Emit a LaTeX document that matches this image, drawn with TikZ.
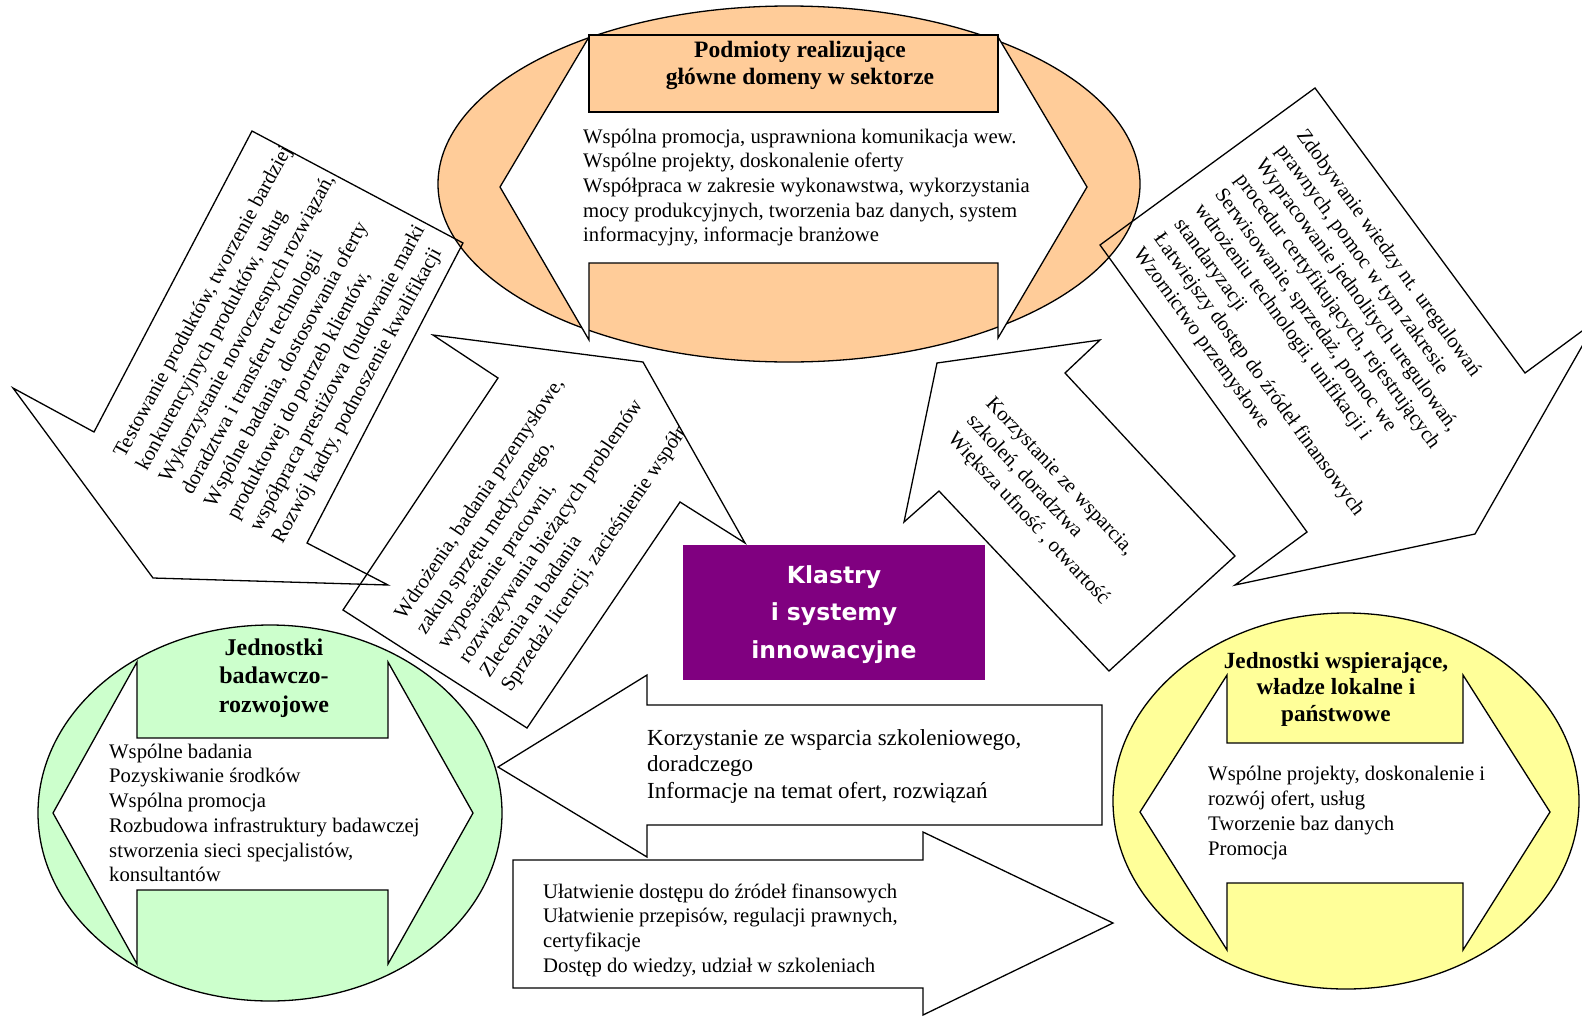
\documentclass[tikz,border=0pt]{standalone}
\usepackage{fontspec}
\setmainfont{Liberation Serif}
\newfontfamily\klasterfont{DejaVu Sans}
\definecolor{orangefill}{HTML}{FFCC99}
\definecolor{greenfill}{HTML}{CCFFCC}
\definecolor{yellowfill}{HTML}{FFFF99}
\definecolor{purplefill}{HTML}{800080}
\begin{document}
\begin{tikzpicture}[x=1bp,y=-1bp,
  shapeline/.style={draw=black,line width=1.3bp,line join=miter},
  txt/.style={inner sep=0pt,align=left,anchor=north west,text=black,
    font=\fontsize{20.7bp}{24.7bp}\selectfont},
  bigtxt/.style={inner sep=0pt,align=left,anchor=north west,text=black,
    font=\fontsize{23bp}{26.7bp}\selectfont},
  ttl/.style={inner sep=0pt,align=center,anchor=north,text=black}
]
\useasboundingbox (0,0) rectangle (1582,1016);
\clip (0,0) rectangle (1582,1016);
\fill[white] (0,0) rectangle (1582,1016);

% ===== top (orange) ellipse
\fill[orangefill] (789,184) ellipse [x radius=351, y radius=178];
\draw[shapeline] (789,184) ellipse [x radius=351, y radius=178];
\draw[shapeline,fill=white] (500,187) -- (589,37) -- (589,112) -- (998,112) -- (998,37)
  -- (1087,187) -- (998,338) -- (998,263) -- (589,263) -- (589,340) -- cycle;
\draw[shapeline,fill=orangefill] (589,35) rectangle (998,112);
\node[ttl,font=\bfseries\fontsize{23.5bp}{27bp}\selectfont] (podmioty) at (800,38.1)
  {\strut Podmioty realizujące\\główne domeny w sektorze};
\node[txt] (podmiotytxt) at (583,125.7)
  {\strut Wspólna promocja, usprawniona komunikacja wew.\\Wspólne projekty, doskonalenie oferty\\Współpraca w zakresie wykonawstwa, wykorzystania\\mocy produkcyjnych, tworzenia baz danych, system\\informacyjny, informacje branżowe};

% ===== green ellipse
\fill[greenfill] (270,813) ellipse [x radius=232, y radius=188];
\draw[shapeline] (270,813) ellipse [x radius=232, y radius=188];
\draw[shapeline,fill=white] (53,813) -- (137,662) -- (137,738) -- (388,738) -- (388,662)
  -- (473,813) -- (388,964) -- (388,890) -- (137,890) -- (137,964) -- cycle;
\node[ttl,font=\bfseries\fontsize{24bp}{28.5bp}\selectfont] (jbr) at (274,635)
  {\strut Jednostki\\badawczo-\\rozwojowe};
\node[txt] (jbrtxt) at (109,740.7)
  {\strut Wspólne badania\\Pozyskiwanie środków\\Wspólna promocja\\Rozbudowa infrastruktury badawczej\\stworzenia sieci specjalistów,\\konsultantów};

% ===== yellow ellipse
\fill[yellowfill] (1346,801) ellipse [x radius=233, y radius=188];
\draw[shapeline] (1346,801) ellipse [x radius=233, y radius=188];
\draw[shapeline,fill=white] (1140,812) -- (1227,675) -- (1227,743) -- (1463,743) -- (1463,675)
  -- (1550,812) -- (1463,950) -- (1463,883) -- (1227,883) -- (1227,950) -- cycle;
\node[ttl,font=\bfseries\fontsize{23.2bp}{26.5bp}\selectfont] (jw) at (1336,649.5)
  {\strut Jednostki wspierające,\\władze lokalne i\\państwowe};
\node[txt,font=\fontsize{20.7bp}{25bp}\selectfont] (jwtxt) at (1208,762.5)
  {\strut Wspólne projekty, doskonalenie i\\rozwój ofert, usług\\Tworzenie baz danych\\Promocja};

% ===== purple box
\fill[purplefill] (683,545) rectangle (985,680);
\node[ttl,text=white,font=\klasterfont\bfseries\fontsize{23.5bp}{37.5bp}\selectfont] (klastry) at (834,556.75)
  {\strut Klastry\\i systemy\\innowacyjne};

% ===== bottom arrows
\draw[shapeline] (498,767) -- (647,675) -- (647,705) -- (1102,705) -- (1102,825) -- (647,825) -- (647,857) -- cycle;
\node[bigtxt] (szkol) at (647,726.3)
  {\strut Korzystanie ze wsparcia szkoleniowego,\\doradczego\\Informacje na temat ofert, rozwiązań};
\draw[shapeline] (513,860) -- (923,860) -- (923,832) -- (1113,923) -- (923,1015) -- (923,988) -- (513,988) -- cycle;
\node[txt] (ulatw) at (543,880.7)
  {\strut Ułatwienie dostępu do źródeł finansowych\\Ułatwienie przepisów, regulacji prawnych,\\certyfikacje\\Dostęp do wiedzy, udział w szkoleniach};

% ===== rotated arrow: Testowanie
\draw[shapeline] (252,131) -- (463,243) -- (307,543) -- (388,585) -- (153,578) -- (13,388) -- (94,432) -- cycle;
\begin{scope}
\clip (252,131) -- (463,243) -- (307,543) -- (388,585) -- (153,578) -- (13,388) -- (94,432) -- cycle;
\node[txt,rotate=61.5,font=\fontsize{20.7bp}{25.75bp}\selectfont] (testowanie) at (108.2,450.4)
  {\strut Testowanie produktów, tworzenie bardziej\\konkurencyjnych produktów, usług\\Wykorzystanie nowoczesnych rozwiązań,\\doradztwa i transferu technologii\\Wspólne badania, dostosowania oferty\\produktowej do potrzeb klientów,\\współpraca prestiżowa (budowanie marki\\Rozwój kadry, podnoszenie kwalifikacji};
\end{scope}

% ===== rotated arrow: Wdrożenia
\draw[shapeline] (433,335) -- (643,362) -- (745,543) -- (680,502) -- (527,728) -- (343,610) -- (498,378) -- cycle;
\begin{scope}
\clip (433,335) -- (643,362) -- (745,543) -- (680,502) -- (527,728) -- (343,610) -- (498,378) -- cycle;
\node[txt,rotate=56,font=\fontsize{20.7bp}{25.7bp}\selectfont] (wdrozenia) at (389.1,610.9)
  {\strut Wdrożenia, badania przemysłowe,\\zakup sprzętu medycznego,\\wyposażenie pracowni,\\rozwiązywania bieżących problemów\\Zlecenia na badania\\Sprzedaż licencji, zacieśnienie współpracy};
\end{scope}

% ===== rotated arrow: Zdobywanie
\draw[shapeline] (1315,88) -- (1525,373) -- (1597,320) -- (1475,534) -- (1235,585) -- (1307,532) -- (1100,245) -- cycle;
\begin{scope}
\clip (1315,88) -- (1525,373) -- (1597,320) -- (1475,534) -- (1235,585) -- (1307,532) -- (1100,245) -- cycle;
\node[txt,rotate=-54,font=\fontsize{20.7bp}{25.2bp}\selectfont] (zdobywanie) at (1310.3,124.6)
  {\strut Zdobywanie wiedzy nt. uregulowań\\prawnych, pomoc w tym zakresie\\Wypracowanie jednolitych uregulowań,\\procedur certyfikujących, rejestrujących\\Serwisowanie, sprzedaż, pomoc we\\wdrożeniu technologii, unifikacji i\\standaryzacji\\Łatwiejszy dostęp do źródeł finansowych\\Wzornictwo przemysłowe};
\end{scope}

% ===== rotated arrow: Korzystanie
\draw[shapeline] (937,363) -- (1100,340) -- (1065,373) -- (1235,556) -- (1109,671) -- (939,491) -- (904,522) -- cycle;
\begin{scope}
\clip (937,363) -- (1100,340) -- (1065,373) -- (1235,556) -- (1109,671) -- (939,491) -- (904,522) -- cycle;
\node[txt,rotate=-47,font=\fontsize{20.7bp}{26bp}\selectfont] (korzyst) at (998.5,391.4)
  {\strut Korzystanie ze wsparcia,\\szkoleń, doradztwa\\Większa ufność , otwartość};
\end{scope}
\end{tikzpicture}
\end{document}
